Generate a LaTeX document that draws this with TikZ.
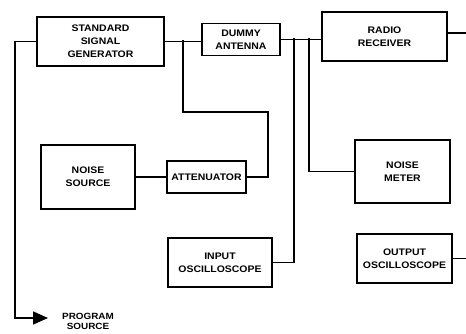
\documentclass[tikz,border=0pt]{standalone}
\usepackage{fontspec}
\setmainfont{Liberation Sans}
\newfontfamily\labfont[FakeStretch=1.1]{Liberation Sans Bold}
\usetikzlibrary{arrows.meta}
\begin{document}
\begin{tikzpicture}[x=1pt,y=-1pt,
  line width=1.6pt,
  box/.style={draw,rectangle,inner sep=0pt,align=center,
    font=\labfont\fontsize{9.5}{13}\selectfont},
  lbl/.style={inner sep=0pt,align=center,font=\labfont\fontsize{9}{10.5}\selectfont}]
\useasboundingbox (0,0) rectangle (466,334);
% boxes
\node[box,minimum width=127pt,minimum height=49pt] (ssg) at (100.5,41.5) {STANDARD\\SIGNAL\\GENERATOR};
\node[box,minimum width=78pt,minimum height=32pt] (dummy) at (241,39.5) {DUMMY\\ANTENNA};
\node[box,minimum width=125pt,minimum height=49pt] (radio) at (384.5,36.5) {RADIO\\RECEIVER};
\node[box,minimum width=94pt,minimum height=64pt] (nsrc) at (88,177) {NOISE\\SOURCE};
\node[box,minimum width=79pt,minimum height=32pt] (atten) at (206.5,177) {ATTENUATOR};
\node[box,minimum width=95pt,minimum height=63pt] (nmeter) at (402.5,171.5) {NOISE\\METER};
\node[box,minimum width=104pt,minimum height=49pt] (inosc) at (220,262.5) {INPUT\\OSCILLOSCOPE};
\node[box,minimum width=95pt,minimum height=49pt] (outosc) at (404.5,258.5) {OUTPUT\\OSCILLOSCOPE};
\node[lbl] (prog) at (88,321.5) {PROGRAM\\SOURCE};
% coordinates
\coordinate (j1) at (183,40.5);
\coordinate (k1) at (268,112);
\coordinate (j2) at (294,38);
\coordinate (j3) at (309,38);
\coordinate (ptip) at (48,318);
\coordinate (rout) at (466,33);
\coordinate (oout) at (466,258.5);
% connectors
\draw (ssg.west) -- (15,41.5) -- (15,318) -- (31,318);
\draw[-{Triangle[length=15pt,width=13pt]}] (30,318) -- (ptip);
\draw (ssg.east) -- (ssg.east -| dummy.west);
\draw (j1) |- (k1) |- (atten.east);
\draw (dummy.east) -- (dummy.east -| radio.west);
\draw (j2) |- (inosc.east);
\draw (j3) |- (nmeter.west);
\draw (radio.east |- rout) -- (rout);
\draw (outosc.east) -- (oout);
\draw (nsrc.east) -- (atten.west);
\end{tikzpicture}
\end{document}
